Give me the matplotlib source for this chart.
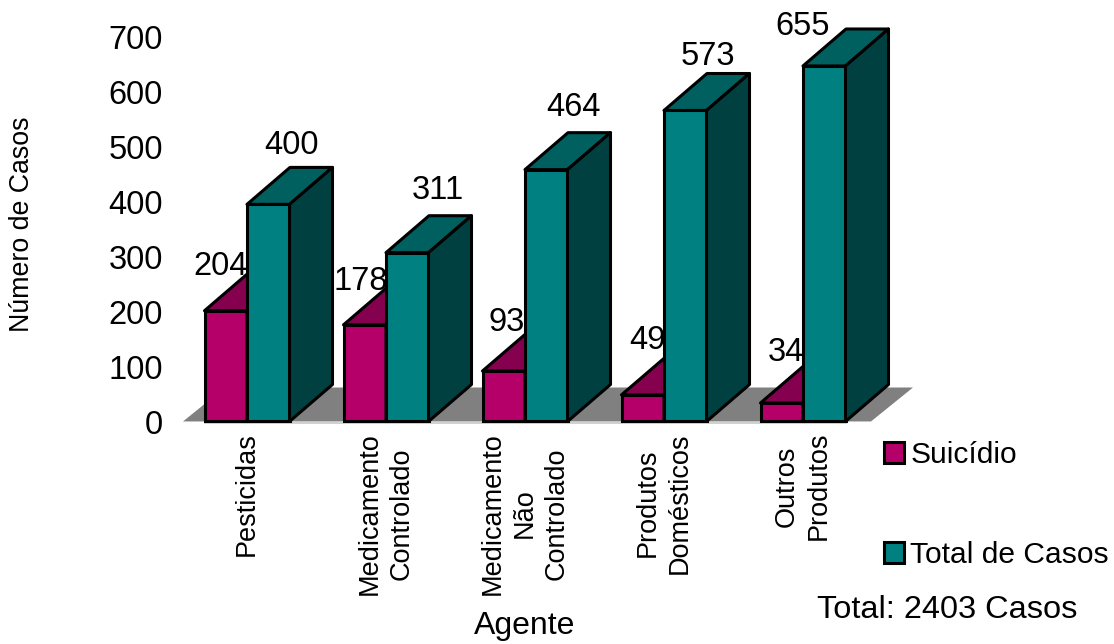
import numpy as np
import matplotlib
matplotlib.use("Agg")
import matplotlib.pyplot as plt
from matplotlib.patches import Polygon, Patch

plt.rcParams["font.family"] = ["Liberation Sans", "DejaVu Sans"]

agentes = ["Pesticidas", "Medicamento\nControlado", "Medicamento\nNão\nControlado",
           "Produtos\nDomésticos", "Outros\nProdutos"]
suicidio = [204, 178, 93, 49, 34]
total_casos = [400, 311, 464, 573, 655]
y_ticks = [0, 100, 200, 300, 400, 500, 600, 700]

# label offsets from the bar top, in pixels
offs_suicidio = [(-5, 44), (-4, 43), (3, 48), (5, 54), (4, 51)]
offs_total = [(23, 59), (31, 62), (27, 62), (23, 54), (-22, 39)]

W, H = 1114, 644
PINK, PINK_TOP = "#B5006A", "#85004F"
TEAL, TEAL_TOP, TEAL_SIDE = "#008080", "#006060", "#004040"
EDGE = 2.2

fig = plt.figure(figsize=(W / 100, H / 100), dpi=100)

# axes area in pixels, y=0 sits on the front of the floor
left, right, top, base = 183, 913, 22, 422
ax = fig.add_axes([left / W, 1 - base / H, (right - left) / W, (base - top) / H])
px_cat = 139.0
px_unit = 0.5435
ax.set_xlim((left - 247) / px_cat, (right - 247) / px_cat)
ax.set_ylim(0, (base - top) / px_unit)
for s in ax.spines.values():
    s.set_visible(False)

dx = 43 / px_cat
dy = 37 / px_unit
w = 42.5 / px_cat
x = np.arange(len(agentes))

# floor
xl, xr = ax.get_xlim()
ax.add_patch(Polygon([(xl, 0), (xl + 42 / px_cat, 34 / px_unit), (xr, 34 / px_unit),
                      (xr - 42 / px_cat, 0)], closed=True, fc="#808080", ec="none",
                     zorder=1, clip_on=False))
ax.plot([-w, 4 + w], [-3.5, -3.5], color="#c8c8c8", lw=1.2, zorder=1, clip_on=False)


def bar3d(xs, vals, fc, fc_top, fc_side, z):
    ax.bar(xs, vals, width=w, align="edge", fc=fc, ec="black", lw=EDGE, zorder=z, clip_on=False)
    for xi, v in zip(xs, vals):
        ax.add_patch(Polygon([(xi, v), (xi + dx, v + dy), (xi + w + dx, v + dy), (xi + w, v)],
                             closed=True, fc=fc_top, ec="black", lw=EDGE, zorder=z,
                             joinstyle="round", clip_on=False))
        ax.add_patch(Polygon([(xi + w, 0), (xi + w + dx, dy), (xi + w + dx, v + dy), (xi + w, v)],
                             closed=True, fc=fc_side, ec="black", lw=EDGE, zorder=z,
                             joinstyle="round", clip_on=False))


bar3d(x - w, suicidio, PINK, PINK_TOP, PINK_TOP, 2)
bar3d(x, total_casos, TEAL, TEAL_TOP, TEAL_SIDE, 3)

for xi, v, o in zip(x - w / 2, suicidio, offs_suicidio):
    ax.annotate(str(v), (xi, v), xytext=(o[0] * 0.72, o[1] * 0.72), textcoords="offset points",
                ha="center", va="center", fontsize=23.5, zorder=5, annotation_clip=False)
for xi, v, o in zip(x + w / 2, total_casos, offs_total):
    ax.annotate(str(v), (xi, v), xytext=(o[0] * 0.72, o[1] * 0.72), textcoords="offset points",
                ha="center", va="center", fontsize=23.5, zorder=5, annotation_clip=False)

# value axis labels run on a slightly taller scale than the bars
ax.set_yticks(np.array(y_ticks) * 0.551 / px_unit - 1, labels=y_ticks, fontsize=23.5)
ax.tick_params(axis="y", length=0, pad=20 * 0.72)
ax.set_xticks(x, labels=agentes, rotation=90, fontsize=19.5, multialignment="center",
              linespacing=1.3)
ax.tick_params(axis="x", length=0, pad=10 * 0.72)

fig.text(22 / W, 1 - 224 / H, "Número de Casos", rotation=90, ha="center", va="center", fontsize=19.3)
fig.text(525 / W, 1 - 626 / H, "Agente", ha="center", va="center", fontsize=23)
fig.text(947 / W, 1 - 610 / H, "Total: 2403 Casos", ha="center", va="center", fontsize=23.4)

handles = [Patch(fc=PINK, ec="black", lw=EDGE), Patch(fc=TEAL, ec="black", lw=EDGE)]
fig.legend(handles, ["Suicídio", "Total de Casos"], loc="upper left",
           bbox_to_anchor=(884 / W, 1 - 441 / H), frameon=False, fontsize=21.6, borderpad=0,
           borderaxespad=0, handlelength=0.66, handleheight=0.66, handletextpad=0.22,
           labelspacing=2.4)

fig.savefig("out.png", dpi=100)
